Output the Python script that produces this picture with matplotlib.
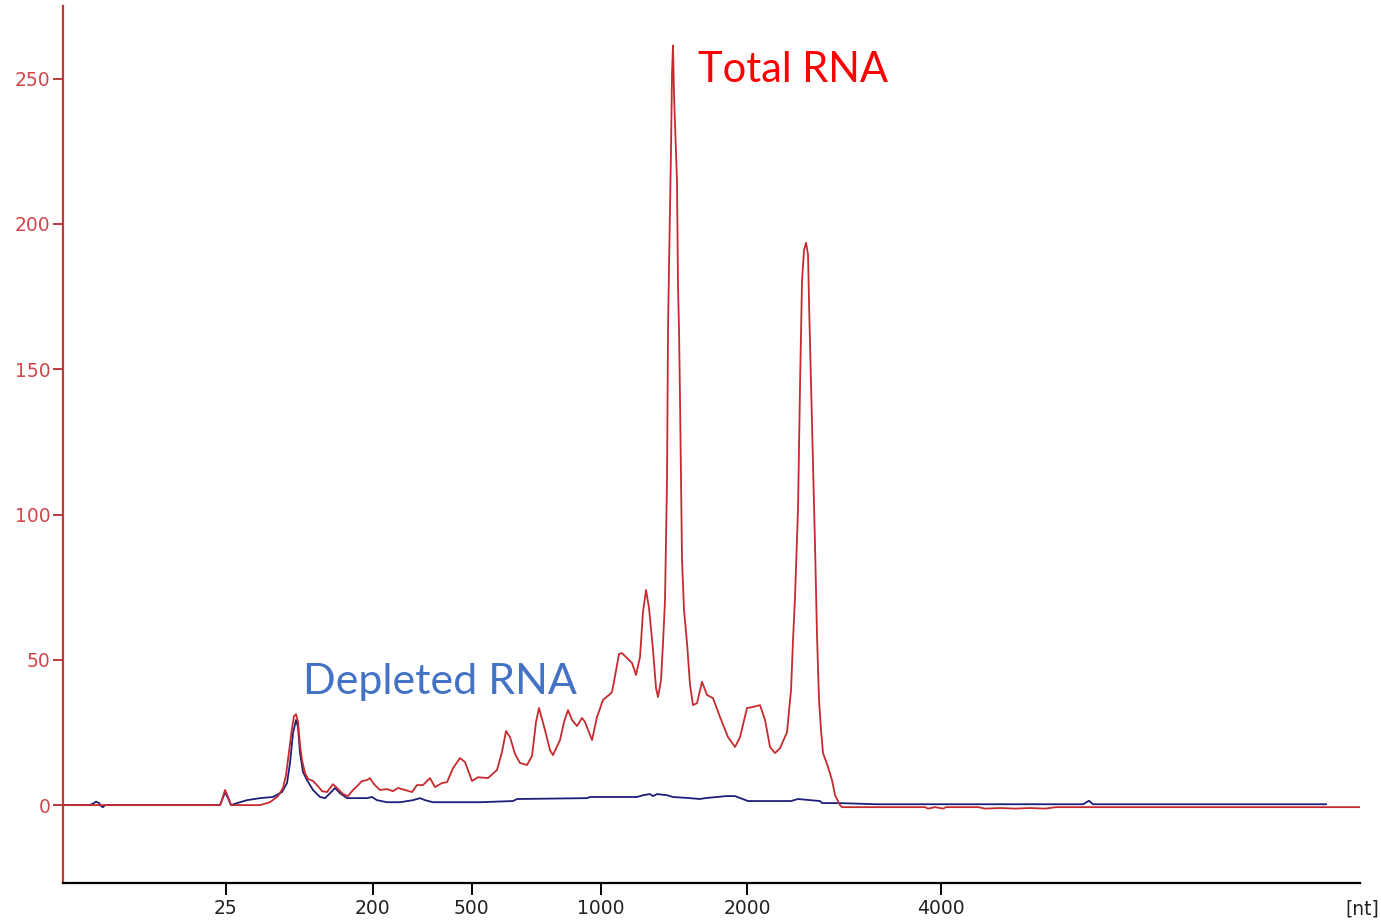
import matplotlib
matplotlib.use("Agg")
import matplotlib.pyplot as plt

# Electropherogram traces: migration time (s) vs fluorescence (FU)
total_time = [19.52, 25.80, 25.88, 26.00, 26.12, 26.24, 27.40, 27.80, 28.12, 28.32, 28.44, 28.56,
              28.68, 28.76, 28.84, 28.92, 29.00, 29.08, 29.20, 29.32, 29.52, 29.72, 29.88, 30.08,
              30.32, 30.48, 30.72, 30.92, 31.12, 31.28, 31.48, 31.68, 31.80, 31.96, 32.20, 32.48,
              32.72, 32.92, 33.20, 33.48, 33.68, 33.92, 34.20, 34.40, 34.68, 34.88, 35.12, 35.40,
              35.60, 35.88, 36.12, 36.52, 36.88, 37.08, 37.24, 37.40, 37.60, 37.80, 38.08, 38.28,
              38.44, 38.56, 38.80, 39.00, 39.12, 39.40, 39.56, 39.72, 39.88, 40.08, 40.28, 40.40,
              40.68, 40.88, 41.12, 41.36, 41.48, 41.60, 41.76, 41.88, 42.08, 42.28, 42.44, 42.60,
              42.72, 42.84, 42.96, 43.12, 43.24, 43.32, 43.44, 43.52, 43.60, 43.68, 43.72, 43.76,
              43.84, 43.88, 43.92, 43.96, 44.08, 44.12, 44.16, 44.20, 44.28, 44.36, 44.48, 44.60,
              44.72, 44.88, 45.08, 45.28, 45.52, 45.80, 46.12, 46.40, 46.60, 46.88, 47.08, 47.40,
              47.60, 47.80, 48.00, 48.20, 48.48, 48.64, 48.72, 48.80, 48.92, 49.00, 49.08, 49.16,
              49.24, 49.32, 49.36, 49.48, 49.60, 49.68, 49.76, 49.84, 49.92, 50.12, 50.28, 50.40,
              50.60, 50.68, 52.20, 54.00, 54.12, 54.40, 54.72, 54.84, 56.12, 56.40, 57.00, 57.60,
              58.20, 58.80, 59.24, 71.40]
total_fu = [0, 0, 1.7, 5.2, 2.8, 0, 0, 1.0, 3.1, 5.9, 10.3, 18.3,
            26.5, 30.6, 31.3, 28.6, 20.7, 15.5, 11.0, 9.0, 8.3, 6.5, 4.8, 4.5,
            7.2, 5.9, 3.8, 3.1, 5.2, 6.5, 8.3, 8.6, 9.3, 7.2, 5.2, 5.5,
            4.8, 5.9, 5.2, 4.5, 6.9, 6.9, 9.3, 6.2, 7.6, 7.9, 12.7, 16.2,
            14.8, 8.3, 9.6, 9.3, 12.1, 18.3, 25.5, 23.4, 17.6, 14.5, 13.8, 16.9,
            28.6, 33.4, 25.8, 18.9, 17.2, 22.4, 28.6, 32.7, 29.3, 27.2, 30.0, 28.6,
            22.4, 30.3, 36.2, 37.9, 38.9, 44.4, 52.0, 52.3, 50.6, 48.9, 44.8, 51.0,
            66.5, 74.0, 67.8, 53.4, 40.3, 37.2, 43.0, 55.8, 70.6, 111.9, 163.6, 185.3,
            225.6, 252.1, 261.4, 244.5, 214.5, 178.4, 163.6, 139.5, 84.4, 67.1, 55.8, 41.3,
            34.4, 35.1, 42.4, 37.9, 36.8, 30.3, 23.4, 20.0, 23.4, 33.4, 33.7, 34.4,
            29.3, 20.0, 17.9, 19.6, 25.1, 39.6, 56.8, 71.6, 101.9, 144.3, 180.4, 191.1,
            193.5, 189.4, 172.9, 131.9, 89.5, 58.2, 36.2, 25.8, 17.9, 13.1, 8.6, 3.4,
            0, -0.7, -0.7, -0.7, -1.2, -0.7, -1.2, -0.7, -0.7, -1.2, -1.0, -1.2,
            -1.0, -1.2, -0.7, -0.7]

depleted_time = [19.52, 20.60, 20.76, 20.84, 20.96, 21.04, 21.12, 21.20, 25.80, 25.88, 26.00, 26.12,
                 26.24, 26.48, 26.88, 27.40, 27.92, 28.28, 28.48, 28.60, 28.72, 28.84, 28.92, 29.00,
                 29.12, 29.28, 29.52, 29.80, 30.00, 30.20, 30.40, 30.60, 30.88, 31.28, 31.68, 31.88,
                 32.08, 32.48, 33.00, 33.52, 33.80, 34.00, 34.32, 36.20, 37.52, 37.68, 40.48, 40.60,
                 42.48, 42.72, 43.00, 43.12, 43.28, 43.68, 43.92, 44.60, 45.00, 45.20, 46.04, 46.40,
                 46.92, 48.64, 48.92, 49.80, 49.88, 50.56, 52.04, 60.32, 60.56, 60.72, 70.04]
depleted_fu = [0, 0, 0.7, 1.2, 0.7, -0.3, -0.7, 0, 0, 1.7, 4.5, 2.4,
               0, 0.7, 1.7, 2.4, 2.8, 4.5, 7.6, 14.5, 24.8, 29.3, 26.9, 17.9,
               11.4, 8.6, 5.2, 2.8, 2.4, 4.1, 5.9, 4.1, 2.4, 2.4, 2.4, 2.8,
               1.7, 1.0, 1.0, 1.7, 2.4, 1.7, 1.0, 1.0, 1.4, 2.1, 2.4, 2.8,
               2.8, 3.4, 3.8, 3.1, 3.8, 3.4, 2.8, 2.4, 2.1, 2.4, 3.1, 3.1,
               1.4, 1.4, 2.1, 1.4, 0.7, 0.7, 0.3, 0.3, 1.5, 0.3, 0.3]

# Ladder calibration: migration time of each size marker
ladder_time = [26.02, 31.90, 35.86, 41.04, 46.88, 54.62]
ladder_nt = ["25", "200", "500", "1000", "2000", "4000"]
fu_ticks = [0, 50, 100, 150, 200, 250]

RED = "#c62a2f"
NAVY = "#1e1e78"
AXIS_RED = "#c0393b"
LABEL_RED = "#d2464b"

fig = plt.figure(figsize=(13.81, 9.23), dpi=100)
ax = fig.add_axes([0.04562, 0.04334, 0.9392, 0.9502])

ax.plot(depleted_time, depleted_fu, color=NAVY, lw=1.3, zorder=2)
ax.plot(total_time, total_fu, color=RED, lw=1.3, zorder=3)

ax.set_xlim(19.52, 71.4)
ax.set_ylim(-26.8, 275)

for s in ("top", "right"):
    ax.spines[s].set_visible(False)
ax.spines["left"].set_color(AXIS_RED)
ax.spines["left"].set_linewidth(1.6)
ax.spines["bottom"].set_color("black")
ax.spines["bottom"].set_linewidth(1.6)

ax.set_yticks(fu_ticks)
ax.set_yticklabels([str(v) for v in fu_ticks])
ax.tick_params(axis="y", direction="out", length=7, width=1.4, color=AXIS_RED,
               labelcolor=LABEL_RED, labelsize=13.5, pad=2)
ax.set_xticks(ladder_time)
ax.set_xticklabels(ladder_nt)
ax.tick_params(axis="x", direction="out", length=8.5, width=1.4, color="black",
               labelcolor="#222222", labelsize=13.5, pad=3)

ax.text(1.0015, -0.0297, "[nt]", transform=ax.transAxes, ha="center", va="center",
        fontsize=13.5, color="#222222", clip_on=False)

ax.text(44.92, 249, "Total RNA", color="#ff0000", fontsize=30, family="Lato",
        ha="left", va="baseline")
ax.text(29.12, 38.4, "Depleted RNA", color="#4472c4", fontsize=31, family="Lato",
        ha="left", va="baseline")

fig.savefig("out.png", dpi=100, facecolor="white")
